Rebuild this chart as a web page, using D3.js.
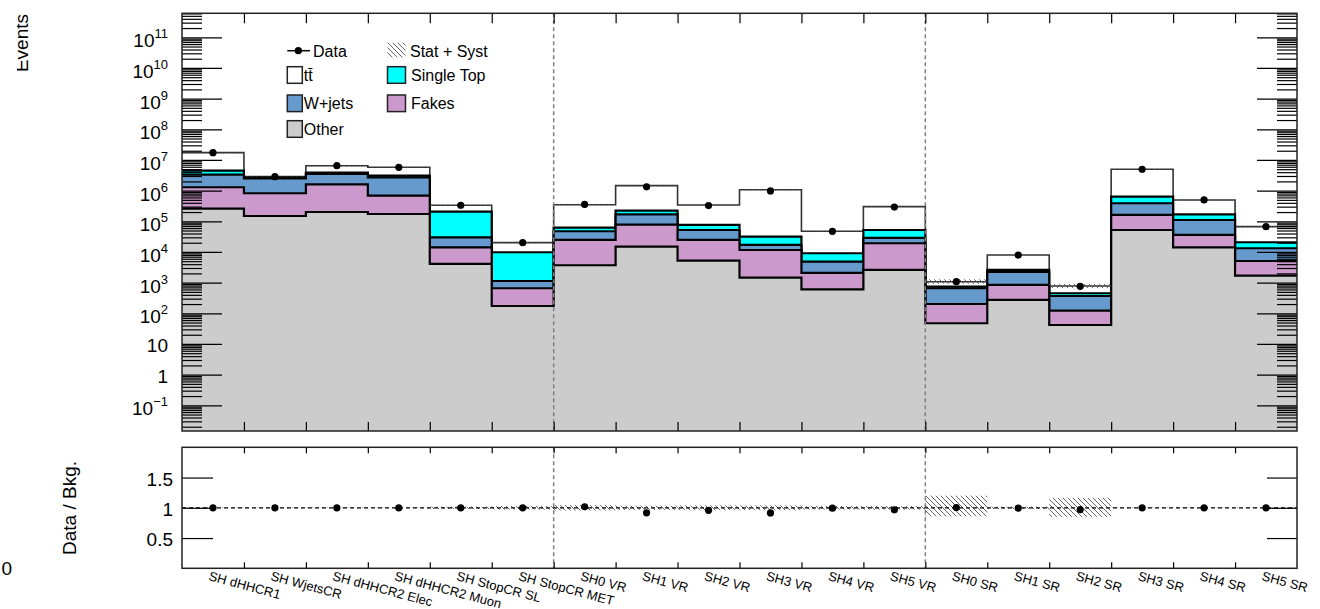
<!DOCTYPE html>
<html>
<head>
<meta charset="utf-8">
<script src="https://cdn.jsdelivr.net/npm/d3@7"></script>
<style>
  html, body { margin: 0; padding: 0; background: #fff; }
  svg { display: block; }
  text { font-family: "Liberation Sans", Arial, Helvetica, sans-serif; fill: #000; }
</style>
</head>
<body>
<svg id="chart" width="1320" height="609"></svg>
<script>
// ---------------- DATA ----------------
const categories = ["SH dHHCR1","SH WjetsCR","SH dHHCR2 Elec","SH dHHCR2 Muon","SH StopCR SL","SH StopCR MET",
  "SH0 VR","SH1 VR","SH2 VR","SH3 VR","SH4 VR","SH5 VR",
  "SH0 SR","SH1 SR","SH2 SR","SH3 SR","SH4 SR","SH5 SR"];
const other     = [258000,149000,201000,173000,4060,173, 3680,14900,5200,1450,607,2590, 47.3,272,41.6,52100,14200,1690];
const fakes     = [1032000,671000,1409000,511000,10140,482, 20920,62700,19400,10150,1463,16610, 153.7,568,80.4,108900,21600,3390];
const wjets     = [2020000,1670000,1880000,2036000,15900,475, 22700,91400,27500,5300,2760,9400, 454,1390,245,226000,74200,8120];
const singleTop = [1160000,150000,360000,350000,175900,8640, 14700,53000,23800,14700,4230,23500, 83,360,83,248000,59000,7500];
const ttbar     = [12830000,210000,2650000,2700000,127000,10330, 286000,1228000,264100,1038400,38240,247900, 332,5390,328,4335000,327000,46100];
const data      = [17300000,2850000,6500000,5770000,333000,20100, 354000,1330000,326000,980000,47000,290000, 1075,7940,755,4970000,496000,66800];
const errUp     = [0.005,0.005,0.005,0.005,0.02,0.03, 0.045,0.035,0.04,0.04,0.03,0.03, 0.20,0.02,0.165,0.005,0.005,0.005];
const errDown   = [0.005,0.005,0.005,0.005,0.02,0.03, 0.045,0.035,0.04,0.04,0.03,0.03, 0.14,0.02,0.15,0.005,0.005,0.005];
const mainTickExps = [-1,0,1,2,3,4,5,6,7,8,9,10,11];
const ratioTicks   = [0.5,1,1.5];
const regionSplits = [6,12];

const processKeys   = ["other","fakes","wjets","singleTop","ttbar"];
const processColors = { ttbar:"#ffffff", singleTop:"#00ffff", wjets:"#6699cc", fakes:"#cc99cc", other:"#cccccc" };

// ---------------- LAYOUT ----------------
const L = 182, R = 1297;
const mainTop = 13.3, mainBot = 431;
const ratTop = 447.3, ratBot = 568.3;
const FONT = "Liberation Sans, Arial, Helvetica, sans-serif";

const svg = d3.select("#chart");

const x = d3.scaleLinear().domain([0, categories.length]).range([L, R]);
const y = d3.scaleLog().domain([Math.pow(10,-1.838), Math.pow(10,11.782)]).range([mainBot, mainTop]);
const yr = d3.scaleLinear().domain([0, 2]).range([ratBot, ratTop]);

const rows = categories.map((c, i) => ({ cat: c, other: other[i], fakes: fakes[i], wjets: wjets[i], singleTop: singleTop[i], ttbar: ttbar[i] }));
const stack = d3.stack().keys(processKeys)(rows);
const totals = rows.map((r, i) => stack[stack.length - 1][i][1]);

// clip for main panel
const defs = svg.append("defs");
defs.append("clipPath").attr("id","clipMain").append("rect")
  .attr("x", L).attr("y", mainTop).attr("width", R - L).attr("height", mainBot - mainTop);
defs.append("clipPath").attr("id","clipRatio").append("rect")
  .attr("x", L).attr("y", ratTop).attr("width", R - L).attr("height", ratBot - ratTop);
defs.append("clipPath").attr("id","clipEvents").append("rect")
  .attr("x", 17).attr("y", 0).attr("width", 40).attr("height", 120);
const pat = defs.append("pattern").attr("id","hatch").attr("patternUnits","userSpaceOnUse")
  .attr("width", 5).attr("height", 5);
pat.append("path").attr("d","M-1,-1 L6,6 M-1,4 L1,6 M4,-1 L6,1")
  .attr("stroke","#555").attr("stroke-width",0.9);

// ---------------- MAIN PANEL ----------------
const gMain = svg.append("g").attr("clip-path","url(#clipMain)");

function stepPath(vals, close) {
  let d = "M" + x(0) + "," + (close ? mainBot + 5 : y(vals[0]));
  if (close) d += "V" + y(vals[0]);
  vals.forEach((v, i) => {
    if (i > 0) d += "V" + y(v);
    d += "H" + x(i + 1);
  });
  if (close) d += "V" + (mainBot + 5) + "Z";
  return d;
}

// draw from top layer (ttbar cumulative) downward
for (let k = stack.length - 1; k >= 0; k--) {
  const layer = stack[k];
  const vals = layer.map(d => d[1]);
  const key = layer.key;
  gMain.append("path").attr("d", stepPath(vals, true))
    .attr("fill", processColors[key]).attr("stroke","none");
  gMain.append("path").attr("d", stepPath(vals, false))
    .attr("fill","none")
    .attr("stroke", key === "ttbar" ? "#333" : "#000")
    .attr("stroke-width", key === "ttbar" ? 1.6 : 2.2);
}

// uncertainty band in main panel
gMain.selectAll("rect.band").data(totals).enter().append("rect")
  .attr("x", (d, i) => x(i)).attr("width", (d, i) => x(i + 1) - x(i))
  .attr("y", (d, i) => y(d * (1 + errUp[i])))
  .attr("height", (d, i) => Math.max(0.8, y(d * (1 - errDown[i])) - y(d * (1 + errUp[i]))))
  .attr("fill","url(#hatch)");

// region split lines
regionSplits.forEach(s => {
  svg.append("line").attr("x1", x(s)).attr("x2", x(s)).attr("y1", mainTop).attr("y2", mainBot)
    .attr("stroke","#808080").attr("stroke-width",1.5).attr("stroke-dasharray","4,3");
  svg.append("line").attr("x1", x(s)).attr("x2", x(s)).attr("y1", ratTop).attr("y2", ratBot)
    .attr("stroke","#808080").attr("stroke-width",1.5).attr("stroke-dasharray","4,3");
});

// data points
gMain.selectAll("circle.data").data(data).enter().append("circle")
  .attr("cx", (d, i) => (x(i) + x(i + 1)) / 2).attr("cy", d => y(d)).attr("r", 3.6).attr("fill","#000");

// y ticks main
const majorVals = mainTickExps.map(e => Math.pow(10, e));
const minorVals = [];
for (let e = -2; e <= 11; e++) for (let m = 2; m <= 9; m++) {
  const v = m * Math.pow(10, e);
  if (v > y.domain()[0] && v < y.domain()[1]) minorVals.push(v);
}
function tickAxis(axisFn, scale, vals, size, tx, ty) {
  const g = svg.append("g").attr("transform", `translate(${tx},${ty})`)
    .call(axisFn(scale).tickValues(vals).tickSize(size).tickFormat(""));
  g.select(".domain").remove();
  g.selectAll(".tick line").attr("stroke","#000").attr("stroke-width",1.2);
  return g;
}
tickAxis(d3.axisRight, y, majorVals, 40, L, 0);
tickAxis(d3.axisRight, y, minorVals, 20, L, 0);
tickAxis(d3.axisLeft, y, majorVals, 40, R, 0);
tickAxis(d3.axisLeft, y, minorVals, 20, R, 0);

// y tick labels main
mainTickExps.forEach(e => {
  const yy = y(Math.pow(10, e));
  if (e === 0 || e === 1) {
    svg.append("text").attr("x", 168).attr("y", yy + 8).attr("text-anchor","end")
      .attr("font-size", 19).text(e === 0 ? "1" : "10");
  } else {
    const t = svg.append("text").attr("x", 168).attr("y", yy + 10).attr("text-anchor","end").attr("font-size", 19);
    t.append("tspan").text("10");
    t.append("tspan").attr("font-size", 13).attr("dy", -9).text(e < 0 ? "\u2212" + Math.abs(e) : String(e));
  }
});

// x ticks main (bin edges)
const edgeVals = d3.range(1, categories.length);
tickAxis(d3.axisBottom, x, edgeVals, 10, 0, mainTop);
tickAxis(d3.axisTop, x, edgeVals, 9, 0, mainBot);

// frame main
svg.append("rect").attr("x", L).attr("y", mainTop).attr("width", R - L).attr("height", mainBot - mainTop)
  .attr("fill","none").attr("stroke","#222").attr("stroke-width",1.5);

// ---------------- RATIO PANEL ----------------
const gRat = svg.append("g").attr("clip-path","url(#clipRatio)");
gRat.selectAll("rect.rband").data(totals).enter().append("rect")
  .attr("x", (d, i) => x(i)).attr("width", (d, i) => x(i + 1) - x(i))
  .attr("y", (d, i) => yr(1 + errUp[i]))
  .attr("height", (d, i) => yr(1 - errDown[i]) - yr(1 + errUp[i]))
  .attr("fill","url(#hatch)");
gRat.append("line").attr("x1", L).attr("x2", R).attr("y1", yr(1)).attr("y2", yr(1))
  .attr("stroke","#000").attr("stroke-width",1.3).attr("stroke-dasharray","4,3");
gRat.selectAll("circle.rdata").data(data).enter().append("circle")
  .attr("cx", (d, i) => (x(i) + x(i + 1)) / 2).attr("cy", (d, i) => yr(d / totals[i])).attr("r", 3.6).attr("fill","#000");

tickAxis(d3.axisRight, yr, ratioTicks, 31, L, 0);
tickAxis(d3.axisLeft, yr, ratioTicks, 30, R, 0);
tickAxis(d3.axisBottom, x, edgeVals, 6, 0, ratTop);
tickAxis(d3.axisTop, x, edgeVals, 6, 0, ratBot);
ratioTicks.forEach(v => {
  svg.append("text").attr("x", 173).attr("y", yr(v) + 8).attr("text-anchor","end")
    .attr("font-size", 19).text(String(v));
});
svg.append("rect").attr("x", L).attr("y", ratTop).attr("width", R - L).attr("height", ratBot - ratTop)
  .attr("fill","none").attr("stroke","#222").attr("stroke-width",1.5);

// category labels
categories.forEach((c, i) => {
  const cx = (x(i) + x(i + 1)) / 2;
  svg.append("text").attr("transform", `translate(${cx - 5},${580}) rotate(15)`)
    .attr("font-size", 13).attr("text-anchor","start").text(c);
});

// axis titles
svg.append("g").attr("clip-path","url(#clipEvents)")
  .append("text").attr("transform","translate(27.5,14) rotate(-90)")
  .attr("text-anchor","end").attr("font-size", 19).text("Events");
svg.append("text").attr("transform","translate(76,508) rotate(-90)")
  .attr("text-anchor","middle").attr("font-size", 19).text("Data / Bkg.");
svg.append("text").attr("x", 12).attr("y", 575).attr("text-anchor","end").attr("font-size", 19).text("0");

// ---------------- LEGEND ----------------
const legendBoxes = [
  { label: "t\u0074\u0304", key: "ttbar", bx: 287.3, row: 75 },
  { label: "W+jets", key: "wjets", bx: 287.3, row: 103.3 },
  { label: "Other", key: "other", bx: 287.3, row: 129 },
  { label: "Single Top", key: "singleTop", bx: 387.5, row: 75 },
  { label: "Fakes", key: "fakes", bx: 387.5, row: 103.3 }
];
const lg = svg.append("g");
legendBoxes.forEach(it => {
  const w = it.bx < 300 ? 15 : 18;
  lg.append("rect").attr("x", it.bx).attr("y", it.row - 8.3).attr("width", w).attr("height", 16.6)
    .attr("fill", processColors[it.key]).attr("stroke","#222").attr("stroke-width",1.5);
  lg.append("text").attr("x", it.bx + w + 1.5 + (it.bx < 300 ? 0 : 4)).attr("y", it.row + 6)
    .attr("font-size", 16).text(it.label);
});
// Data entry
lg.append("line").attr("x1", 287.3).attr("x2", 310).attr("y1", 50.7).attr("y2", 50.7)
  .attr("stroke","#000").attr("stroke-width",1.5);
lg.append("circle").attr("cx", 298.3).attr("cy", 50.7).attr("r", 3.6).attr("fill","#000");
lg.append("text").attr("x", 313).attr("y", 56.5).attr("font-size", 16).text("Data");
// Stat + Syst entry
lg.append("rect").attr("x", 387.5).attr("y", 42.7).attr("width", 18).attr("height", 14.6).attr("fill","url(#hatch)");
lg.append("text").attr("x", 410).attr("y", 56.5).attr("font-size", 16).text("Stat + Syst");
</script>
</body>
</html>
